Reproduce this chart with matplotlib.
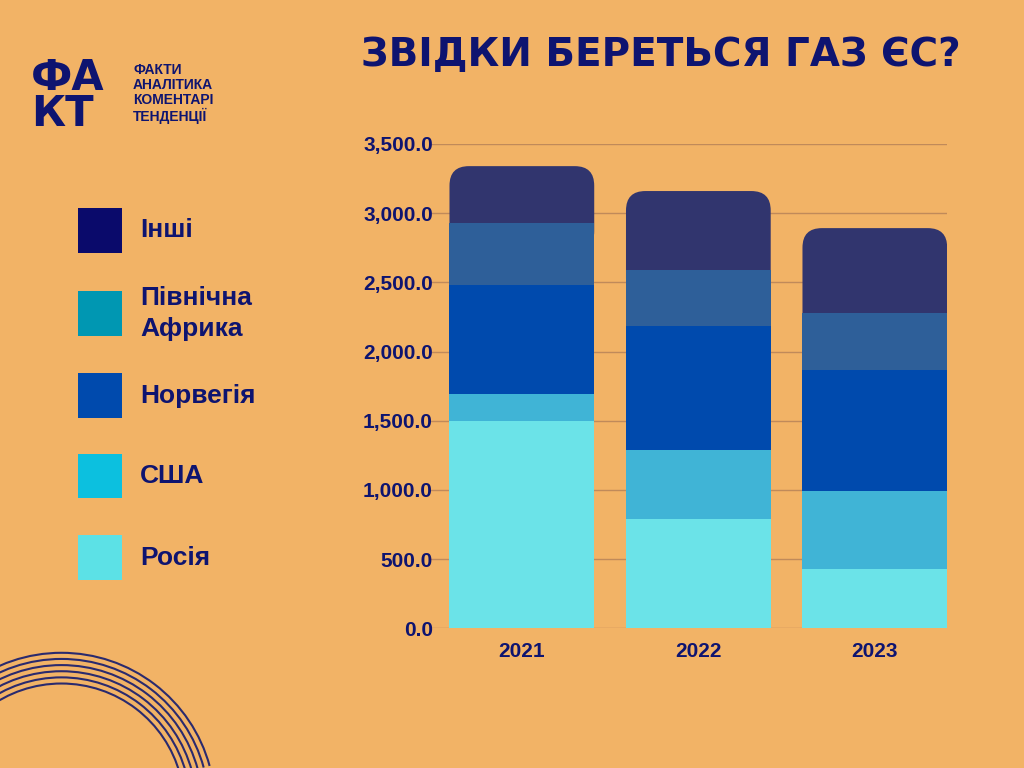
import matplotlib
matplotlib.use("Agg")
import matplotlib.pyplot as plt
from matplotlib.patches import FancyBboxPatch, Rectangle, Arc
import numpy as np

plt.rcParams["font.family"] = "Liberation Sans"

years = ["2021", "2022", "2023"]
russia = [1500, 788, 427]
usa = [192, 499, 563]
norway = [788, 896, 875]
nafrica = [448, 405, 412]
others = [412, 572, 615]
series = [russia, usa, norway, nafrica, others]
bar_colors = ["#6BE3E8", "#40B4D6", "#004AAD", "#2E5F99", "#31356E"]
legend_names = ["Інші", "Північна\nАфрика", "Норвегія", "США", "Росія"]
legend_colors = ["#0A0A6B", "#0097B2", "#004AAD", "#0CC0DF", "#5CE1E6"]
yticks = [0, 500, 1000, 1500, 2000, 2500, 3000, 3500]

bg = "#F2B366"
navy = "#0E1470"
fig = plt.figure(figsize=(10.24, 7.68), dpi=100, facecolor=bg)
ax = fig.add_axes([0.42, 0.182, 0.505, 0.6305], facecolor=bg)
ax.set_xlim(-0.52, 2.41)
ax.set_ylim(0, 3500)
ax.set_yticks(yticks)
ax.set_yticklabels([f"{v:,.1f}" for v in yticks], fontsize=15, fontweight="bold", color=navy)
ax.set_xticks(range(3))
ax.set_xticklabels(years, fontsize=15, fontweight="bold", color=navy)
ax.tick_params(axis="y", length=0, pad=-2)
ax.tick_params(axis="x", length=0, pad=10)
for s in ax.spines.values():
    s.set_visible(False)
ax.grid(axis="y", color="#C08A5A", lw=1)
ax.set_axisbelow(True)

w = 0.82
x = np.arange(3)
aspect = (3500 / 484) / (2.93 / 517)
for i in range(3):
    bottom = sum(s[i] for s in series[:-1])
    p = FancyBboxPatch((x[i] - w / 2, bottom - 200), w, others[i] + 200,
                       boxstyle="round,pad=0,rounding_size=0.11",
                       mutation_aspect=aspect, fc=bar_colors[-1], ec="none", zorder=2)
    ax.add_patch(p)
    bottom = 0
    for k, s in enumerate(series[:-1]):
        ax.bar(x[i], s[i], w, bottom=bottom, color=bar_colors[k], zorder=3)
        bottom += s[i]

fig.text(0.645, 0.928, "ЗВІДКИ БЕРЕТЬСЯ ГАЗ ЄС?", ha="center", va="center",
         fontsize=28, fontweight="heavy", color=navy, family="DejaVu Sans")

# logo
fig.text(0.03, 0.875, "ФА\nКТ", fontsize=30, fontweight="bold", color=navy, va="center", linespacing=0.8,
         family="DejaVu Sans")
fig.text(0.13, 0.878, "ФАКТИ\nАНАЛІТИКА\nКОМЕНТАРІ\nТЕНДЕНЦІЇ", fontsize=10, fontweight="bold",
         color=navy, va="center", linespacing=1.1)

# legend
ys = [0.70, 0.592, 0.485, 0.38, 0.274]
for name, c, yy in zip(legend_names, legend_colors, ys):
    fig.patches.append(Rectangle((0.076, yy - 0.029), 0.043, 0.058, transform=fig.transFigure, fc=c, ec="none"))
    fig.text(0.137, yy, name, fontsize=19, fontweight="bold", color=navy, va="center", linespacing=1.4)

# decorative arcs
for r in range(6):
    fig.patches.append(Arc((0.06, -0.05), 0.30 - r * 0.012, 0.40 - r * 0.016, theta1=20, theta2=160,
                           transform=fig.transFigure, color="#2A2A6E", lw=1.5))

fig.savefig("out.png", dpi=100, facecolor=bg)
